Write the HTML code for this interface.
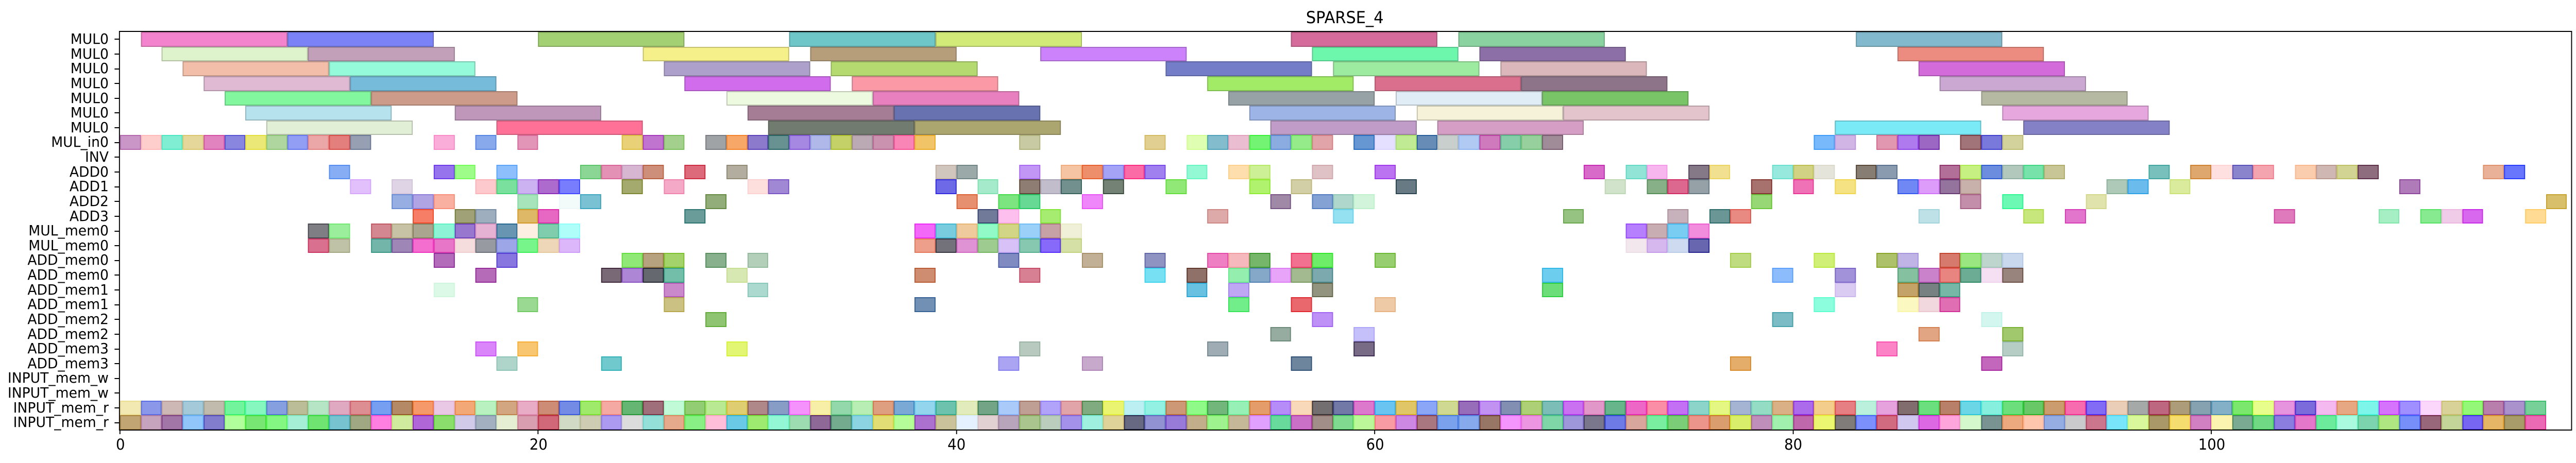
<!DOCTYPE html>
<html><head><meta charset="utf-8"><style>
html,body{margin:0;padding:0;background:#fff;overflow:hidden;}
body{width:5262px;height:899px;}
#root{position:absolute;left:0;top:0;width:5262px;height:899px;overflow:hidden;transform-origin:0 0;font-family:"DejaVu Sans","Liberation Sans",sans-serif;background:#fff;}
#plot{position:absolute;left:245px;top:62px;width:5005px;height:773px;overflow:hidden;}
.b{position:absolute;box-sizing:border-box;border:2px solid;}
.frame{position:absolute;left:243px;top:60px;width:5007px;height:772px;border:2.5px solid #000;box-sizing:content-box;pointer-events:none;}
.yl{position:absolute;right:5040px;font-size:28px;line-height:30px;white-space:nowrap;color:#000;}
.yt{position:absolute;left:234px;width:10px;height:2px;background:#000;}
.xt{position:absolute;top:834px;width:2px;height:9px;background:#000;}
.xl{position:absolute;top:846px;font-size:29px;line-height:34px;transform:translateX(-50%);color:#000;}
#title{position:absolute;left:2747px;top:14px;transform:translateX(-50%);font-size:32px;line-height:40px;color:#000;}
</style></head><body>
<div id="root">
<div id="title">SPARSE_4</div>
<div id="plot"></div>
<div class="frame"></div>
<div id="labels">
<div class="yl" style="top:61px">MUL0</div>
<div class="yl" style="top:90px">MUL0</div>
<div class="yl" style="top:118px">MUL0</div>
<div class="yl" style="top:147px">MUL0</div>
<div class="yl" style="top:176px">MUL0</div>
<div class="yl" style="top:204px">MUL0</div>
<div class="yl" style="top:233px">MUL0</div>
<div class="yl" style="top:261px">MUL_in0</div>
<div class="yl" style="top:290px">INV</div>
<div class="yl" style="top:319px">ADD0</div>
<div class="yl" style="top:347px">ADD1</div>
<div class="yl" style="top:376px">ADD2</div>
<div class="yl" style="top:405px">ADD3</div>
<div class="yl" style="top:433px">MUL_mem0</div>
<div class="yl" style="top:462px">MUL_mem0</div>
<div class="yl" style="top:490px">ADD_mem0</div>
<div class="yl" style="top:519px">ADD_mem0</div>
<div class="yl" style="top:548px">ADD_mem1</div>
<div class="yl" style="top:576px">ADD_mem1</div>
<div class="yl" style="top:605px">ADD_mem2</div>
<div class="yl" style="top:634px">ADD_mem2</div>
<div class="yl" style="top:662px">ADD_mem3</div>
<div class="yl" style="top:691px">ADD_mem3</div>
<div class="yl" style="top:719px">INPUT_mem_w</div>
<div class="yl" style="top:748px">INPUT_mem_w</div>
<div class="yl" style="top:777px">INPUT_mem_r</div>
<div class="yl" style="top:805px">INPUT_mem_r</div>
</div>
<div class="xl" style="left:246px">0</div>
<div class="xl" style="left:1100px">20</div>
<div class="xl" style="left:1954px">40</div>
<div class="xl" style="left:2809px">60</div>
<div class="xl" style="left:3663px">80</div>
<div class="xl" style="left:4518px">100</div>
<div id="ticks"></div>
</div>
<script>
(function(){
var U=42.72,RH=28.63,plot=document.getElementById('plot');
var seed=12345;function rnd(){seed=(seed*1103515245+12345)%2147483648;return seed/2147483648;}
function add(row,t,d,col){
  var e=document.createElement('div');e.className='b';
  e.style.left=(t*U)+'px';e.style.top=(row*RH)+'px';
  e.style.width=(d*U)+'px';e.style.height=RH+'px';
  var r,g,b;
  if(col){r=parseInt(col.substr(1,2),16);g=parseInt(col.substr(3,2),16);b=parseInt(col.substr(5,2),16);
    e.style.background=col;
    e.style.borderColor='rgb('+Math.round(r*0.8)+','+Math.round(g*0.8)+','+Math.round(b*0.8)+')';}
  else{r=Math.floor(rnd()*256);g=Math.floor(rnd()*256);b=Math.floor(rnd()*256);
    var a=0.6;
    e.style.background='rgb('+Math.round(255-(255-r)*a)+','+Math.round(255-(255-g)*a)+','+Math.round(255-(255-b)*a)+')';
    e.style.borderColor='rgb('+Math.round(255-(255-r)*0.85)+','+Math.round(255-(255-g)*0.85)+','+Math.round(255-(255-b)*0.85)+')';}
  plot.appendChild(e);
}
var mul=[
[[1,'#f383cc'],[8,'#7b82f5'],[20,'#a2d072'],[32,'#6ec6c8'],[39,'#d1ea78'],[56,'#d46b9a'],[64,'#8ad3a0'],[83,'#82b9cc']],
[[2,'#def3cb'],[9,'#c3a0ba'],[25,'#f6f08a'],[33,'#b79e7a'],[44,'#cc82fb'],[57,'#6cf7ad'],[65,'#8c6fa6'],[85,'#ec8b80']],
[[3,'#f2bea9'],[10,'#95fad9'],[26,'#ada1cc'],[34,'#b4da70'],[50,'#737dc8'],[58,'#9deba0'],[66,'#dbb6ba'],[86,'#d46bda']],
[[4,'#e0b9d3'],[11,'#77bbdb'],[27,'#d16cec'],[35,'#fb9aa6'],[52,'#a1eb67'],[60,'#d96f8c'],[67,'#8d7489'],[87,'#cba8d2']],
[[5,'#83f79e'],[12,'#cd9b89'],[29,'#edfae0'],[36,'#e87fbf'],[53,'#97a2a7'],[61,'#e0edf6'],[68,'#78c466'],[89,'#b6b9a1']],
[[6,'#b6e2ee'],[16,'#be97ba'],[30,'#a57e95'],[37,'#6872b0'],[54,'#9db5e6'],[62,'#f6f2da'],[69,'#e3c4cc'],[90,'#e6a7de']],
[[7,'#e2efd7'],[18,'#ff7196'],[31,'#717b70'],[38,'#aba56f'],[55,'#c09dc8'],[63,'#d59fc5'],[82,'#7aeaf7'],[91,'#8581c7']]];
for(var i=0;i<7;i++)for(var j=0;j<mul[i].length;j++)add(i,mul[i][j][0],7,mul[i][j][1]);
function rng(a,b){var r=[];for(var k=a;k<=b;k++)r.push(k);return r;}
var rows={
7:[].concat(rng(0,11),[15,17,19,24,25,26],rng(28,38),[43,49],rng(51,57),rng(59,68),[81,82,84,85,86,88,89,90]),
9:[10,15,16,18,22,23,24,25,27,29,39,40,43,45,46,47,48,49,51,53,54,57,60,70,72,73,75,76,79,80,81,83,84,87,88,89,90,91,92,97,99,100,101,102,104,105,106,107,113,114],
10:[11,13,17,18,19,20,21,24,26,30,31,39,41,43,44,45,47,50,54,56,61,71,73,74,75,78,80,82,85,86,87,88,95,96,98,109],
11:[13,14,15,19,21,22,28,40,42,43,46,55,57,58,59,78,88,90,94,116],
12:[14,16,17,19,20,27,41,42,44,52,58,69,74,76,77,86,91,93,103,108,110,111,112,115],
13:[].concat([9,10],rng(12,21),rng(38,45),rng(72,75)),
14:[].concat([9,10],rng(12,21),rng(38,45),rng(72,75)),
15:[15,18,24,25,26,28,30,42,46,49,52,53,54,56,57,60,77,81,84,85,87,88,89,90],
16:[17,23,24,25,26,29,38,43,49,51,53,54,55,56,57,68,79,82,85,86,87,88,89,90],
17:[15,26,30,51,53,57,68,82,85,86,87],
18:[19,26,38,53,56,60,81,85,86,87],
19:[28,57,79,89],
20:[55,59,86,90],
21:[17,19,29,43,52,59,84,90],
22:[18,23,42,46,56,77,89],
25:rng(0,115),
26:rng(0,115)};
for(var r in rows){var a=rows[r];for(var k=0;k<a.length;k++)add(+r,a[k],1,null);}
var tk=document.getElementById('ticks'),h='';
for(var i=0;i<27;i++)h+='<div class="yt" style="top:'+(62+RH*(i+0.5)-1)+'px"></div>';
for(var i=0;i<6;i++)h+='<div class="xt" style="left:'+(245+U*20*i-1)+'px"></div>';
tk.innerHTML=h;
function fit(){
  var w=window.innerWidth||document.documentElement.clientWidth||5262;
  var hh=window.innerHeight||document.documentElement.clientHeight||899;
  var sx=w/5262,sy=hh/899;
  var root=document.getElementById('root');
  if(Math.abs(sx-1)>0.002||Math.abs(sy-1)>0.002){root.style.transform='scale('+sx+','+sy+')';}
  else root.style.transform='none';
}
fit();window.addEventListener('resize',fit);
})();
</script>
</body></html>
